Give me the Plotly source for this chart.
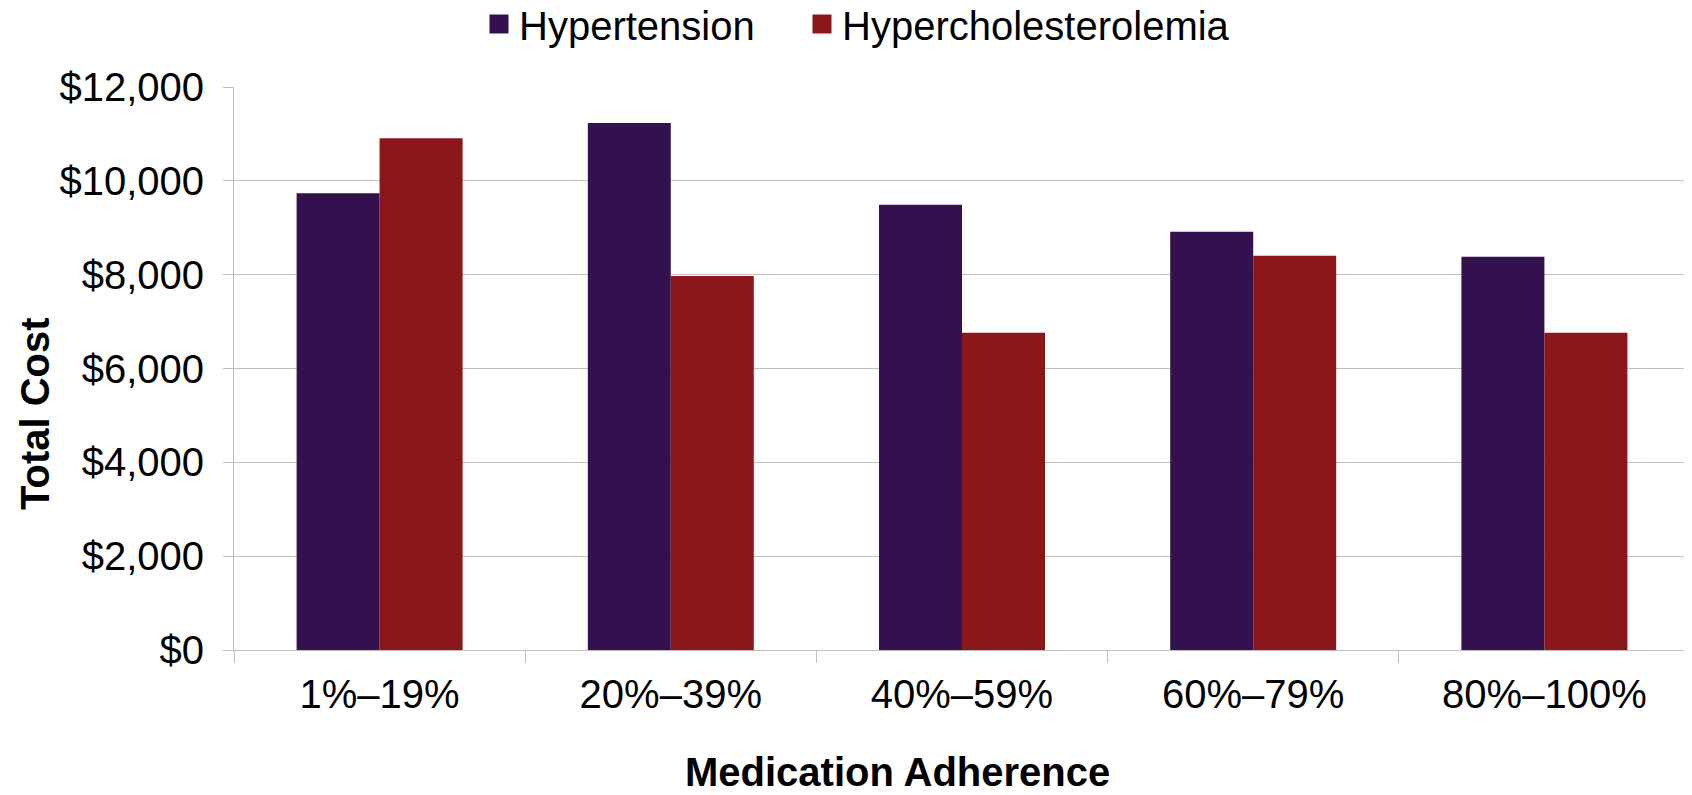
import plotly.graph_objects as go

categories = ["1%–19%", "20%–39%", "40%–59%", "60%–79%", "80%–100%"]
hypertension = [9734, 11232, 9491, 8916, 8383]
hypercholesterolemia = [10906, 7971, 6763, 8404, 6763]
y_ticks = [0, 2000, 4000, 6000, 8000, 10000, 12000]
y_tick_labels = ["$0", "$2,000", "$4,000", "$6,000", "$8,000", "$10,000", "$12,000"]
series_names = ["Hypertension", "Hypercholesterolemia"]
series_colors = ["#33114F", "#8C171B"]

FONT = "Liberation Sans, Arial, sans-serif"
GRID = "#c0c0c0"

# page body has an 8px margin; figure is sized so the plot sits where the reference has it
W, H = 1684, 787
L, T = 226, 79
PW, PH = 1456, 563

fig = go.Figure()
for name, vals, col in zip(series_names, [hypertension, hypercholesterolemia], series_colors):
    fig.add_trace(go.Bar(name=name, x=categories, y=vals, showlegend=False,
                         marker=dict(color=col, line=dict(width=0))))
legend_ids = ["legend", "legend2"]
for name, col, lg in zip(series_names, series_colors, legend_ids):
    fig.add_trace(go.Scatter(name=name, x=[None], y=[None], mode="markers", legend=lg,
                             marker=dict(symbol="square", size=16, color=col,
                                         line=dict(color=col, width=3))))

legend_style = dict(orientation="h", xref="paper", xanchor="left",
                    y=1 - 16 / H, yref="container", yanchor="middle",
                    font=dict(size=40), bgcolor="rgba(0,0,0,0)")

fig.update_layout(
    width=W, height=H,
    paper_bgcolor="white", plot_bgcolor="white",
    margin=dict(l=L, r=W - L - PW, t=T, b=H - T - PH, autoexpand=False),
    barmode="group", bargap=0.43, bargroupgap=0,
    font=dict(family=FONT, size=40, color="black"),
    showlegend=True,
    legend=dict(x=(479 - 234) / PW, **legend_style),
    legend2=dict(x=(802 - 234) / PW, **legend_style),
    xaxis=dict(
        tickson="boundaries", ticks="outside", ticklen=12, tickcolor=GRID, tickwidth=1,
        showline=True, linecolor=GRID, linewidth=1, showgrid=False,
        tickfont=dict(size=40), ticklabelstandoff=9,
    ),
    yaxis=dict(
        range=[0, 12000], tickvals=y_ticks, ticktext=y_tick_labels,
        ticks="outside", ticklen=10, tickcolor=GRID, tickwidth=1,
        showline=True, linecolor=GRID, linewidth=1,
        showgrid=True, gridcolor=GRID, gridwidth=1, zeroline=False,
        tickfont=dict(size=40), ticklabelstandoff=11,
    ),
    annotations=[
        dict(text="<b>Medication Adherence</b>", xref="paper", yref="paper",
             x=(897 - 234) / PW, y=-(772 - 650) / PH, xanchor="center", yanchor="middle",
             showarrow=False, font=dict(size=40)),
        dict(text="<b>Total Cost</b>", xref="paper", yref="paper", textangle=-90,
             x=(35 - 234) / PW, y=(650 - 414) / PH, xanchor="center", yanchor="middle",
             showarrow=False, font=dict(size=40)),
    ],
)

fig.write_html("out.html")
